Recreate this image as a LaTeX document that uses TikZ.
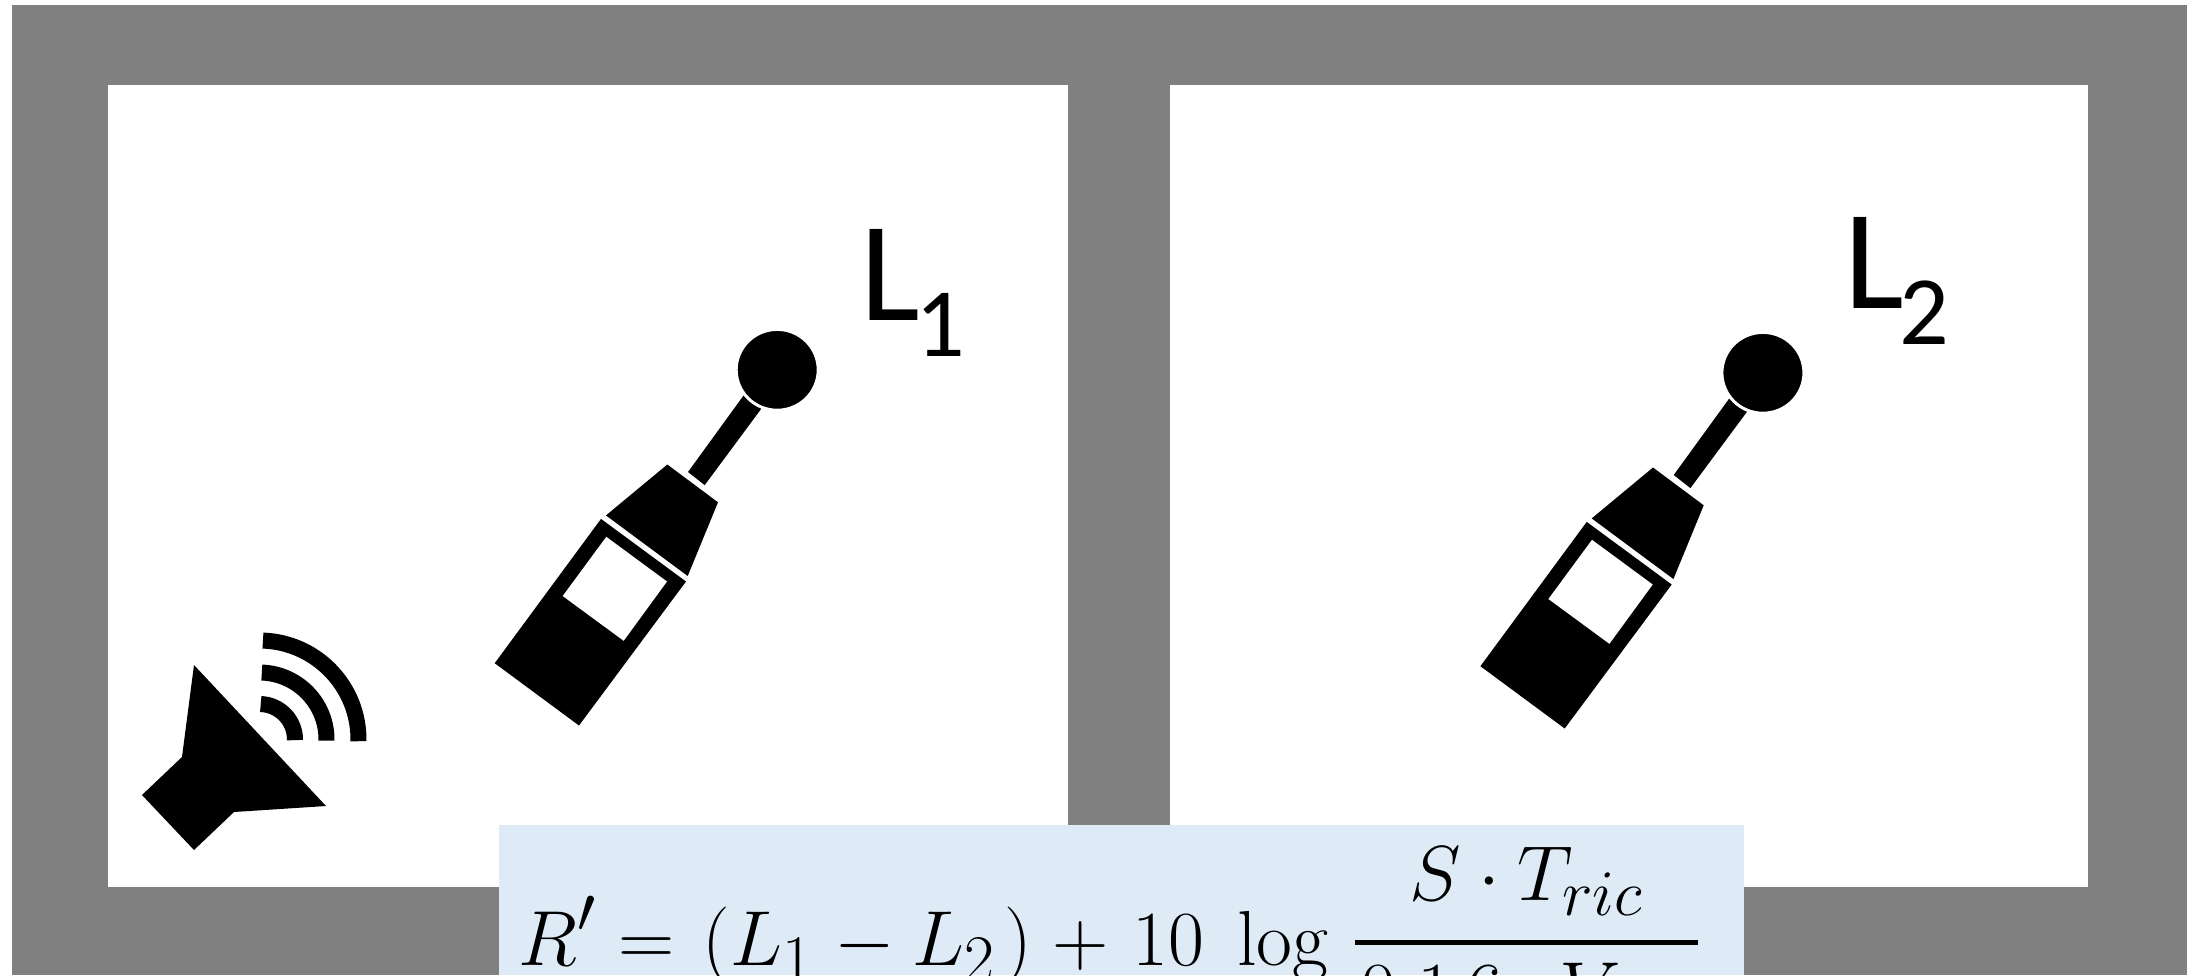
\documentclass[tikz,border=0pt]{standalone}
\usepackage{amsmath}
\usepackage{fontspec}
\newfontfamily\labelfont{Carlito}
\definecolor{wallgrey}{HTML}{808080}
\definecolor{formulablue}{HTML}{DEEAF6}
\newlength{\pxunit}
\setlength{\pxunit}{0.569pt}
\newlength{\fpx}
\setlength{\fpx}{0.319pt}
\newcommand{\levellabel}[1]{L\raisebox{-36\pxunit}{\fontsize{55.8pt}{60pt}\selectfont\hspace{-5\pxunit}#1}}
\tikzset{
    meter/.pic={
        \fill (601,518.9) -- (686,581.5) -- (579,725.5) -- (494.7,663.2) -- cycle;
        \fill[white] (606.3,536.8) -- (667,581.5) -- (623.7,640.8) -- (562.7,596) -- cycle;
        \fill (667.3,464.5) -- (718,502.3) -- (687.7,576) -- (606,515.4) -- cycle;
        \fill (749,388) -- (767,401) -- (704.7,485.1) -- (688,472) -- cycle;
        \filldraw[fill=black, draw=white, line width=1.7pt] (777.2,369.8) ellipse [x radius=41, y radius=40.4];
    }
}
\begin{document}
\begin{tikzpicture}[
    x=0.02cm, y=-0.02cm,
    room/.style={fill=white},
    wave/.style={draw, line width=9.1pt},
    level/.style={anchor=base west, inner sep=0pt, font=\labelfont\fontsize{80.8pt}{90pt}\selectfont},
    formula/.style={anchor=base west, inner sep=0pt, scale=1.785, font=\Huge}
]
\useasboundingbox (0,0) rectangle (2187,975);
\clip (0,0) rectangle (2187,975);
\fill[wallgrey] (12,5) rectangle (2187,975);
\fill[room] (108,85) rectangle (1068,887);
\fill[room] (1170,85) rectangle (2088,887);
% speaker
\fill (194,665) -- (326,806) -- (234,812) -- (194,850) -- (142,795) -- (182,757) -- cycle;
\foreach \r in {35.5,67,99}
    \draw[wave] (259.5,739.5) ++(-88:\r) arc[start angle=-88, end angle=1, radius=\r];
% meters
\pic at (0,0) {meter};
\pic at (985.7,3) {meter};
\node[level] (levelone) at (860,320.5) {\levellabel{1}};
\node[level] (leveltwo) at (1844,308.6) {\levellabel{2}};
% formula
\fill[formulablue] (499,825) rectangle (1744,975);
\node[formula] (formula) at (518,965) {$\displaystyle R' = \hspace{6\fpx}(L_1 \hspace{4\fpx}- L_2\hspace{8\fpx}) \hspace{3\fpx}+ \hspace{7\fpx}10\hspace{20\fpx}\log\hspace{10\fpx}\raisebox{3\fpx}{$\displaystyle\genfrac{}{}{1.9pt}{0}{\raisebox{9\fpx}{$S\cdot T_{ric}$}}{\makebox[343\fpx][l]{$\hspace{5\fpx}0.1\hspace{14\fpx}6\cdot V$}}$}$};
\end{tikzpicture}
\end{document}
